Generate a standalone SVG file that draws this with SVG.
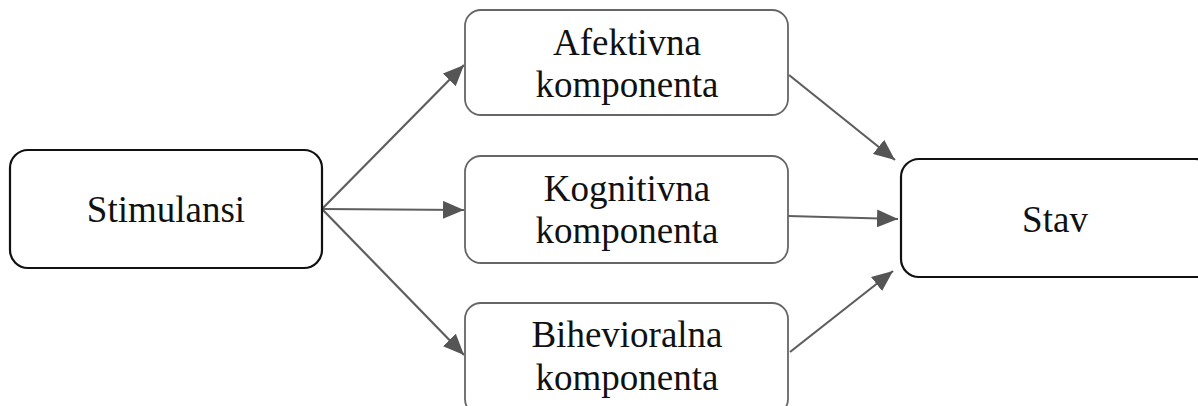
<svg xmlns="http://www.w3.org/2000/svg" width="1198" height="406" viewBox="0 0 1198 406">
<style>
.t{font-family:"Liberation Serif","Times New Roman",serif;font-size:37px;fill:#111;text-anchor:middle}
.outer{fill:#fff;stroke:#111;stroke-width:2.2}
.inner{fill:#fff;stroke:#666;stroke-width:1.8}
.c{stroke:#5e5e5e;stroke-width:2.2;fill:none}
</style>
<defs>
<marker id="ah" markerUnits="userSpaceOnUse" markerWidth="22" markerHeight="18" refX="21" refY="9" orient="auto">
<path d="M0,0 L21,9 L0,18 Z" fill="#555"/>
</marker>
</defs>
<rect width="1198" height="406" fill="#fff"/>
<g id="connectors">
<line class="c" x1="322" y1="209" x2="464" y2="65" marker-end="url(#ah)"/>
<line class="c" x1="322" y1="209" x2="464" y2="210" marker-end="url(#ah)"/>
<line class="c" x1="322" y1="209" x2="464" y2="355" marker-end="url(#ah)"/>
<line class="c" x1="789" y1="75" x2="895" y2="160" marker-end="url(#ah)"/>
<line class="c" x1="788" y1="216" x2="898" y2="219" marker-end="url(#ah)"/>
<line class="c" x1="790" y1="352" x2="893" y2="271" marker-end="url(#ah)"/>
</g>
<g id="stimulansi">
<rect class="outer" x="10" y="150" width="312" height="118" rx="18"/>
<text class="t" x="166" y="222">Stimulansi</text>
</g>
<g id="afektivna">
<rect class="inner" x="465" y="10" width="323" height="105" rx="16"/>
<text class="t" x="627" y="55">Afektivna</text>
<text class="t" x="627" y="97">komponenta</text>
</g>
<g id="kognitivna">
<rect class="inner" x="465" y="156" width="323" height="107" rx="16"/>
<text class="t" x="627" y="201">Kognitivna</text>
<text class="t" x="627" y="243">komponenta</text>
</g>
<g id="bihevioralna">
<rect class="inner" x="465" y="303" width="323" height="112" rx="16"/>
<text class="t" x="627" y="347">Bihevioralna</text>
<text class="t" x="627" y="390">komponenta</text>
</g>
<g id="stav">
<rect class="outer" x="901" y="159" width="312" height="118" rx="18"/>
<text class="t" x="1055" y="232">Stav</text>
</g>
</svg>
